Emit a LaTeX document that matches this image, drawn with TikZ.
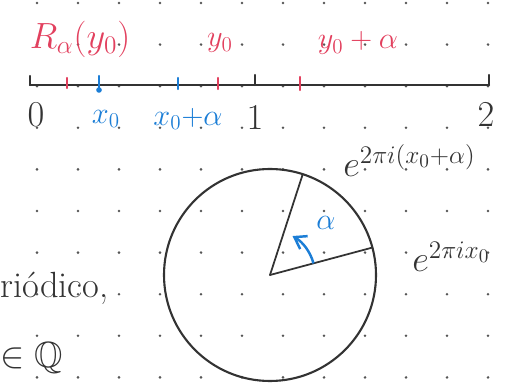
\documentclass[tikz,border=0pt]{standalone}
\usepackage{amsmath}
\usepackage{amssymb}
\usepackage{xcolor}
\usetikzlibrary{arrows.meta,calc}
\definecolor{PenRed}{HTML}{E2405E}
\definecolor{PenBlue}{HTML}{1C7ED6}
\definecolor{PenBlack}{HTML}{333333}
\definecolor{GridDot}{HTML}{555555}

\begin{document}
\begin{tikzpicture}[
  x=0.02cm,y=0.02cm,
  redlab/.style={text=PenRed,font=\LARGE,inner sep=0pt},
  bluelab/.style={text=PenBlue,font=\LARGE,inner sep=0pt},
  numlab/.style={text=PenBlack,font=\huge,inner sep=0pt},
  explab/.style={text=PenBlack,font=\fontsize{22}{26}\selectfont,inner sep=0pt,anchor=base west},
  pen/.style={draw=PenBlack,line width=1.2pt,line cap=round},
  redtick/.style={draw=PenRed,line width=1.3pt,line cap=round},
  bluetick/.style={draw=PenBlue,line width=1.3pt,line cap=round},
  turn/.style={draw=PenBlue,line width=1.4pt,-{Straight Barb[length=2.2mm,width=3mm]}}
]
\useasboundingbox (0,0) rectangle (520,385);
% dotted paper
\foreach \i in {0,...,11}
  \foreach \j in {0,...,9}
    \fill[GridDot] (37+41*\i,382-41.6*\j) circle (0.8pt);

% number line
\coordinate (zero) at (30,300);
\coordinate (one) at (255,300);
\coordinate (two) at (489,300);
\draw[pen] (zero) -- (two);
\draw[pen] (zero) -- ++(0,9);
\draw[pen] (one) -- ++(0,10);
\draw[pen] (two) -- ++(0,10);
\draw[redtick] (67,297) -- (67,307);
\draw[redtick] (218,296) -- (218,307);
\draw[redtick] (300,295) -- (300,308);
\draw[bluetick] (99,295) -- (99,309);
\fill[PenBlue] (99,295) circle (1.6pt);
\draw[bluetick] (178,296) -- (178,307);

\node[numlab] (n0) at (36,270) {$0$};
\node[numlab] (n1) at (255,267) {$1$};
\node[numlab] (n2) at (486,270) {$2$};
\node[bluelab] (x0) at (106,266) {$x_0$};
\node[bluelab] (x0a) at (188,266) {$x_0{+}\alpha$};
\node[redlab,font=\huge] (ry0) at (80,346) {$R_\alpha(y_0)$};
\node[redlab] (y0) at (220,342) {$y_0$};
\node[redlab] (y0a) at (358,342) {$y_0+\alpha$};

% circle
\coordinate (c) at (270,110);
\draw[pen] (c) circle (106);
\coordinate (p) at ($(c)+(15:106)$);
\coordinate (q) at ($(c)+(72:106)$);
\draw[pen,line width=1pt] (c) -- (p);
\draw[pen,line width=1pt] (c) -- (q);
\draw[turn] ($(c)+(15:45)$) arc[start angle=15,end angle=60,radius=45];
\node[bluelab] (alpha) at (326,162) {$\alpha$};

\node[explab] (eq) at (343,208) {$e^{2\pi i(x_0+\alpha)}$};
\node[explab] (ep) at (412,113) {$e^{2\pi i x_0}$};

% text at the left edge
\node[numlab,anchor=base west] (per) at (0,87) {ri\'odico,};
\node[numlab,anchor=base west] (inq) at (0,17) {$\in\mathbb{Q}$};
\end{tikzpicture}
\end{document}
